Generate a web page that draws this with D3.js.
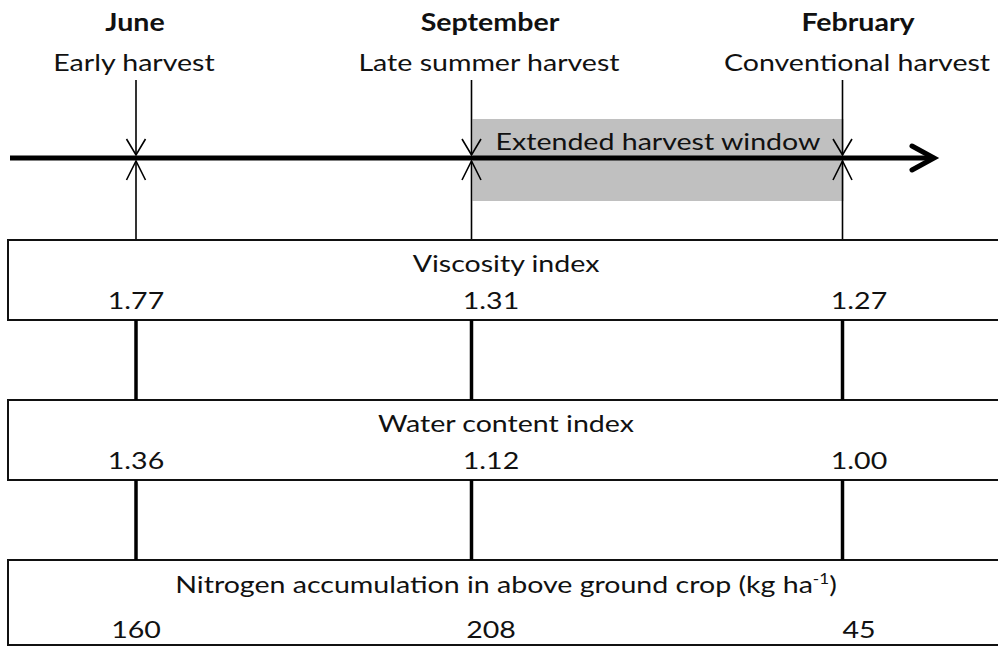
<!DOCTYPE html>
<html>
<head>
<meta charset="utf-8">
<script src="https://cdn.jsdelivr.net/npm/d3@7"></script>
<style>
  html, body { margin: 0; padding: 0; background: #fff; }
  svg { display: block; }
  text { font-family: Lato, "Open Sans", sans-serif; fill: #111; }
</style>
</head>
<body>
<div id="chart"></div>
<script>
// ---- data ----
const months = ["June", "September", "February"];
const harvestTypes = ["Early harvest", "Late summer harvest", "Conventional harvest"];
const windowLabel = "Extended harvest window";
const windowSpan = ["September", "February"];
const indicatorNames = ["Viscosity index", "Water content index", "Nitrogen accumulation in above ground crop (kg ha"];
const indicatorUnitSup = ["", "", "-1"];
const indicatorUnitTail = ["", "", ")"];
const viscosity = [1.77, 1.31, 1.27];
const waterContent = [1.36, 1.12, 1.00];
const nitrogen = [160, 208, 45];
const indicatorFormats = [".2f", ".2f", "d"];

// ---- layout ----
const W = 998, H = 646;
const svg = d3.select("#chart").append("svg").attr("width", W).attr("height", H);

const xLine = d3.scaleOrdinal().domain(months).range([136, 471.5, 842.5]);
const xText = d3.scaleOrdinal().domain(months).range([136, 491, 859]);

const FS = 24;
const SX = 1.19;   // horizontal stretch of the typeface to mimic the original
const timelineY = 158;
const place = (x, y) => `translate(${x},${y}) scale(${SX},1)`;

// extended harvest window
svg.append("rect")
  .attr("x", xLine(windowSpan[0]) + 1)
  .attr("y", 119)
  .attr("width", xLine(windowSpan[1]) - xLine(windowSpan[0]))
  .attr("height", 82)
  .attr("fill", "#c0c0c0");

svg.append("text")
  .attr("transform", place((xLine(windowSpan[0]) + xLine(windowSpan[1])) / 2 + 1, 150))
  .attr("text-anchor", "middle")
  .attr("font-size", FS)
  .text(windowLabel);

// timeline arrow
svg.append("line")
  .attr("x1", 10).attr("x2", 932)
  .attr("y1", timelineY).attr("y2", timelineY)
  .attr("stroke", "#000").attr("stroke-width", 5);
svg.append("path")
  .attr("d", d3.line()([[912, timelineY - 12], [934, timelineY], [912, timelineY + 12]]))
  .attr("fill", "none").attr("stroke", "#000").attr("stroke-width", 5)
  .attr("stroke-linejoin", "miter").attr("stroke-linecap", "round");

// harvest markers
const mk = svg.append("g").selectAll("g").data(months).join("g");
mk.append("line")
  .attr("x1", d => xLine(d)).attr("x2", d => xLine(d))
  .attr("y1", 80).attr("y2", timelineY - 3)
  .attr("stroke", "#000").attr("stroke-width", 1.6);
mk.append("line")
  .attr("x1", d => xLine(d)).attr("x2", d => xLine(d))
  .attr("y1", timelineY + 3).attr("y2", 240)
  .attr("stroke", "#000").attr("stroke-width", 1.6);
mk.append("path")
  .attr("d", d => d3.line()([[xLine(d) - 9.5, 139], [xLine(d), timelineY - 3], [xLine(d) + 9.5, 139]]))
  .attr("fill", "none").attr("stroke", "#000").attr("stroke-width", 1.6);
mk.append("path")
  .attr("d", d => d3.line()([[xLine(d) - 9.5, 180], [xLine(d), timelineY + 3], [xLine(d) + 9.5, 180]]))
  .attr("fill", "none").attr("stroke", "#000").attr("stroke-width", 1.6);

// month + harvest labels
mk.append("text")
  .attr("transform", d => place(xText(d) - 1, 30.5))
  .attr("text-anchor", "middle").attr("font-size", FS).attr("font-weight", "bold")
  .text(d => d);
mk.append("text")
  .attr("transform", d => place(xText(d) - 2, 71))
  .attr("text-anchor", "middle").attr("font-size", FS)
  .text((d, i) => harvestTypes[i]);

// indicator boxes
const boxes = [
  { top: 240, bottom: 320, titleY: 271.5, valY: 309, values: viscosity },
  { top: 400, bottom: 480, titleY: 431.5, valY: 469, values: waterContent },
  { top: 560, bottom: 645, titleY: 593, valY: 638, values: nitrogen }
];
const boxX0 = 8, boxX1 = 1004;

boxes.forEach((b, bi) => {
  const g = svg.append("g");
  g.append("rect")
    .attr("x", boxX0).attr("y", b.top)
    .attr("width", boxX1 - boxX0).attr("height", b.bottom - b.top)
    .attr("fill", "#fff").attr("stroke", "#111").attr("stroke-width", 2);
  const t = g.append("text")
    .attr("transform", place((boxX0 + boxX1) / 2, b.titleY))
    .attr("text-anchor", "middle").attr("font-size", FS);
  t.append("tspan").text(indicatorNames[bi]);
  if (indicatorUnitSup[bi]) {
    t.append("tspan").attr("font-size", FS * 0.6).attr("dy", -9).text(indicatorUnitSup[bi]);
    t.append("tspan").attr("dy", 9).text(indicatorUnitTail[bi]);
  }
  const fmt = d3.format(indicatorFormats[bi]);
  g.selectAll("text.val").data(b.values).join("text")
    .attr("class", "val")
    .attr("transform", (d, i) => place(xText(months[i]), b.valY))
    .attr("text-anchor", "middle").attr("font-size", FS)
    .text(d => fmt(d));
});

// thick connectors between boxes
for (let k = 0; k < boxes.length - 1; k++) {
  svg.append("g").selectAll("line").data(months).join("line")
    .attr("x1", d => xLine(d)).attr("x2", d => xLine(d))
    .attr("y1", boxes[k].bottom).attr("y2", boxes[k + 1].top)
    .attr("stroke", "#000").attr("stroke-width", 3.5);
}
</script>
</body>
</html>
